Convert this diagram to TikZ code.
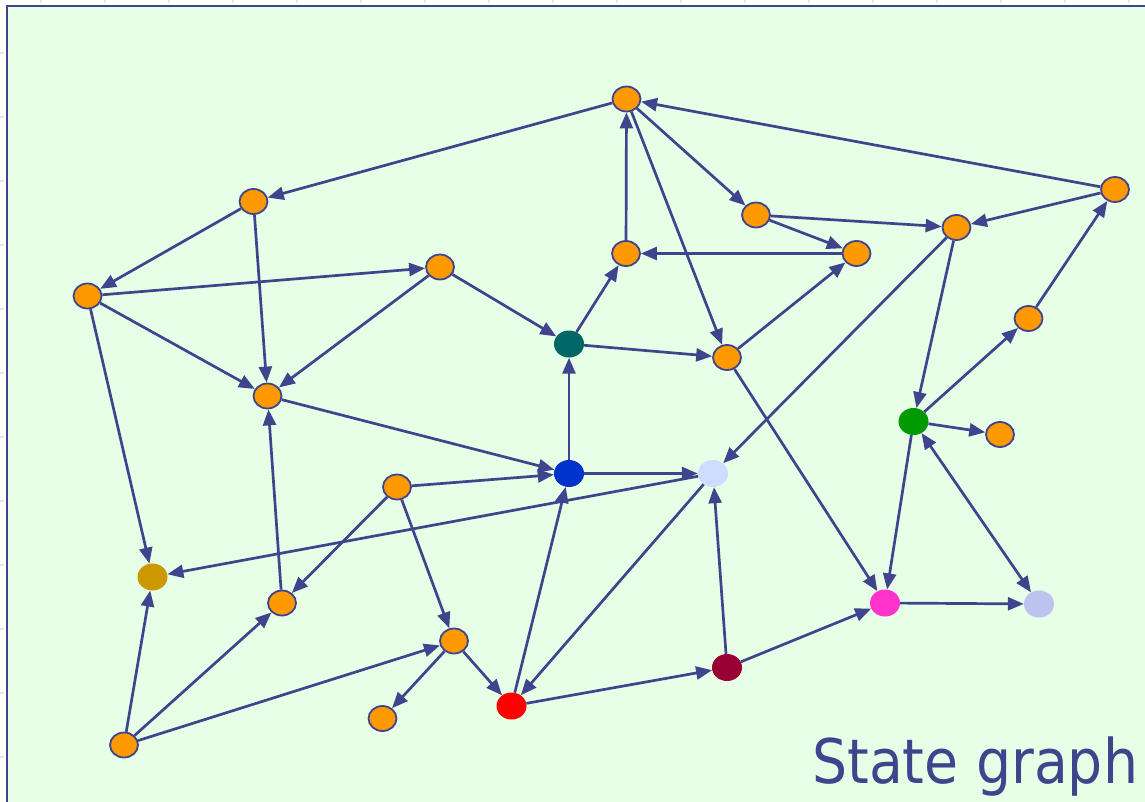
\documentclass[tikz,border=0pt]{standalone}
\usepackage{fontspec}
\newfontfamily\labelfont{DejaVu Sans Condensed}
\usetikzlibrary{shapes.geometric,arrows.meta}
\definecolor{ink}{HTML}{40448C}
\definecolor{paper}{HTML}{E6FFE6}
\definecolor{tick}{HTML}{E2E8FA}
\definecolor{cOrange}{HTML}{FF9900}
\definecolor{cTeal}{HTML}{006666}
\definecolor{cBlue}{HTML}{0033CC}
\definecolor{cPale}{HTML}{CCDDFF}
\definecolor{cGold}{HTML}{CC9900}
\definecolor{cGreen}{HTML}{009900}
\definecolor{cPink}{HTML}{FF33CC}
\definecolor{cLilac}{HTML}{BBC3EE}
\definecolor{cWine}{HTML}{990033}
\definecolor{cRed}{HTML}{FF0000}
\tikzset{
  state/.style={ellipse, inner sep=0pt, minimum width=30pt, minimum height=27pt},
  plain/.style={state, draw=ink, line width=1.8pt, fill=cOrange, minimum width=28pt, minimum height=25pt},
  tinted/.style={state, fill=#1},
  edge/.style={draw=ink, line width=2.7pt, -{Triangle[length=16pt,width=13pt]}},
  twoway/.style={draw=ink, line width=2.7pt, {Triangle[length=16pt,width=13pt]}-{Triangle[length=16pt,width=13pt]}},
}
\begin{document}
\begin{tikzpicture}[x=1pt,y=-1pt]
\useasboundingbox (0,0) rectangle (1145,802);
% ruler ticks outside the frame
\foreach \tx in {41,105,...,1145} \draw[tick, line width=1.5pt] (\tx,0) -- (\tx,3);
\foreach \ty in {53,117,...,802} \draw[tick, line width=1.5pt] (0,\ty) -- (4,\ty);
% panel
\fill[paper] (7,6) rectangle (1160,820);
\draw[ink, line width=2.5pt] (7,820) -- (7,6) -- (1160,6);

% states
\node[plain] (a) at (626.5,99) {};
\node[plain] (b) at (253.5,201.5) {};
\node[plain] (c) at (87.5,296) {};
\node[plain] (d) at (440,267) {};
\node[plain] (e) at (267.5,396) {};
\node[plain] (f) at (756,215) {};
\node[plain] (g) at (626,253.5) {};
\node[plain] (h) at (856.5,253.5) {};
\node[plain] (i) at (956.5,227.5) {};
\node[plain] (j) at (1115,189.5) {};
\node[plain] (k) at (1028.5,318.5) {};
\node[tinted=cTeal] (l) at (569,344) {};
\node[plain] (m) at (727,357.5) {};
\node[tinted=cGreen] (n) at (913.5,421.5) {};
\node[plain] (o) at (1000,434.5) {};
\node[tinted=cBlue] (p) at (569,473.5) {};
\node[tinted=cPale] (q) at (713,473.5) {};
\node[plain] (r) at (397,487) {};
\node[tinted=cGold] (s) at (152.5,577) {};
\node[plain] (t) at (282,603) {};
\node[tinted=cPink] (u) at (885,603) {};
\node[tinted=cLilac] (v) at (1039,604) {};
\node[plain] (w) at (454,641) {};
\node[tinted=cWine] (x) at (727,667.5) {};
\node[tinted=cRed] (y) at (511.5,706) {};
\node[plain] (z) at (382.5,718.5) {};
\node[plain] (aa) at (124,745) {};

% transitions
\draw[edge] (a) -- (b);
\draw[edge] (j) -- (a);
\draw[edge] (a) -- (f);
\draw[edge] (a) -- (m);
\draw[edge] (g) -- (a);
\draw[edge] (b) -- (c);
\draw[edge] (b) -- (e);
\draw[edge] (c) -- (d);
\draw[edge] (c) -- (e);
\draw[edge] (c) -- (s);
\draw[edge] (d) -- (e);
\draw[edge] (d) -- (l);
\draw[edge] (f) -- (i);
\draw[edge] (f) -- (h);
\draw[edge] (h) -- (g);
\draw[edge] (j) -- (i);
\draw[edge] (i) -- (q);
\draw[edge] (i) -- (n);
\draw[edge] (k) -- (j);
\draw[edge] (n) -- (k);
\draw[edge] (n) -- (o);
\draw[edge] (n) -- (u);
\draw[twoway] (n) -- (v);
\draw[edge] (l) -- (g);
\draw[edge] (l) -- (m);
\draw[edge] (m) -- (h);
\draw[edge] (m) -- (u);
\draw[edge] (e) -- (p);
\draw[edge] (p) -- (l);
\draw[edge] (p) -- (q);
\draw[edge] (r) -- (p);
\draw[edge] (q) -- (s);
\draw[edge] (r) -- (t);
\draw[edge] (r) -- (w);
\draw[edge] (t) -- (e);
\draw[edge] (aa) -- (s);
\draw[edge] (aa) -- (t);
\draw[edge] (aa) -- (w);
\draw[edge] (w) -- (z);
\draw[edge] (w) -- (y);
\draw[edge] (y) -- (p);
\draw[edge] (q) -- (y);
\draw[edge] (x) -- (q);
\draw[edge] (y) -- (x);
\draw[edge] (x) -- (u);
\draw[edge] (u) -- (v);

% caption
\node[anchor=base west, inner sep=0pt, text=ink, font=\labelfont\fontsize{61.5}{62}\selectfont] (title) at (812,783) {State graph};
\end{tikzpicture}
\end{document}
